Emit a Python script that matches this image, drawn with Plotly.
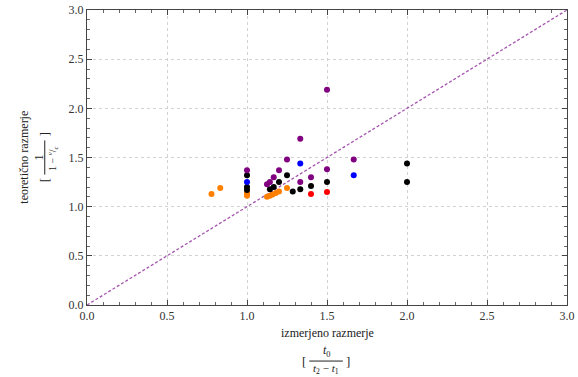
import plotly.graph_objects as go

# ---- data ----
orange_x = [0.778, 0.833, 1.0, 1.0, 1.0, 1.125, 1.143, 1.16, 1.18, 1.2, 1.25]
orange_y = [1.13, 1.19, 1.14, 1.12, 1.11, 1.10, 1.11, 1.125, 1.14, 1.155, 1.19]

black_x = [1.0, 1.0, 1.0, 1.143, 1.167, 1.2, 1.25, 1.286, 1.333, 1.4, 1.5, 2.0, 2.0]
black_y = [1.32, 1.20, 1.17, 1.177, 1.20, 1.25, 1.32, 1.153, 1.177, 1.21, 1.25, 1.44, 1.25]

purple_x = [1.0, 1.125, 1.143, 1.167, 1.2, 1.25, 1.333, 1.333, 1.4, 1.5, 1.5, 1.667]
purple_y = [1.37, 1.227, 1.25, 1.30, 1.37, 1.48, 1.25, 1.69, 1.30, 1.38, 2.19, 1.48]

blue_x = [1.0, 1.333, 1.667]
blue_y = [1.25, 1.44, 1.32]

red_x = [1.4, 1.5]
red_y = [1.13, 1.15]

diag_x = [0, 3]
diag_y = [0, 3]

tick_vals = [0.0, 0.5, 1.0, 1.5, 2.0, 2.5, 3.0]
tick_text = ["0.0", "0.5", "1.0", "1.5", "2.0", "2.5", "3.0"]

FONT = "Liberation Serif, Times New Roman, serif"

fig = go.Figure()
fig.add_trace(go.Scatter(x=diag_x, y=diag_y, mode="lines",
                         line=dict(color="rgb(165,85,175)", width=1.3, dash="3px,2px"),
                         hoverinfo="skip"))
series = [
    (orange_x, orange_y, "rgb(255,127,0)"),
    (black_x, black_y, "black"),
    (purple_x, purple_y, "rgb(128,0,128)"),
    (blue_x, blue_y, "rgb(0,0,255)"),
    (red_x, red_y, "rgb(255,0,0)"),
]
for xs, ys, c in series:
    fig.add_trace(go.Scatter(x=xs, y=ys, mode="markers",
                             marker=dict(color=c, size=6, line=dict(width=0))))

axis_common = dict(
    range=[0, 3], tickvals=tick_vals, ticktext=tick_text, automargin=False,
    showline=True, linecolor="#444", linewidth=1, mirror="ticks",
    ticks="inside", ticklen=5, tickcolor="#444",
    minor=dict(dtick=0.1, ticks="inside", ticklen=3, tickcolor="#666", showgrid=False),
    showgrid=True, gridcolor="#d2d2d2", griddash="dot", gridwidth=1,
    zeroline=False, tickfont=dict(family=FONT, size=12, color="#333"),
)
fig.update_xaxes(**axis_common)
fig.update_yaxes(**axis_common)

def ann(x, y, text, size=12, angle=0):
    fig.add_annotation(xref="paper", yref="paper", x=x, y=y, text=text,
                       showarrow=False, textangle=angle,
                       font=dict(family=FONT, size=size, color="#222"),
                       xanchor="center", yanchor="middle")

# x axis title and fraction
ann(0.5, -0.095, "izmerjeno razmerje", 12)
ann(0.5, -0.155, "<i>t</i><sub>0</sub>", 12)
ann(0.498, -0.218, "<i>t</i><sub>2</sub> − <i>t</i><sub>1</sub>", 11)
ann(0.452, -0.19, "[", 13)
ann(0.543, -0.19, "]", 13)
fig.add_shape(type="line", xref="paper", yref="paper",
              x0=0.463, x1=0.533, y0=-0.19, y1=-0.19,
              line=dict(color="#222", width=1))

# y axis title and fraction
ann(-0.133, 0.5, "teoretično razmerje", 12, -90)
ann(-0.102, 0.5, "1", 12, -90)
ann(-0.072, 0.5, "1 − <sup><i>v</i></sup>/<sub><i>c</i></sub>", 10, -90)
ann(-0.088, 0.422, "[", 13, -90)
ann(-0.088, 0.578, "]", 13, -90)
fig.add_shape(type="line", xref="paper", yref="paper",
              x0=-0.088, x1=-0.088, y0=0.442, y1=0.558,
              line=dict(color="#222", width=1))

fig.update_layout(
    width=578, height=377,
    margin=dict(l=87, r=11, t=10, b=72),
    paper_bgcolor="white", plot_bgcolor="white",
    showlegend=False,
)
fig.write_html("out.html",
               config={"displayModeBar": False, "responsive": False},
               post_script="document.body.style.margin='0';document.body.style.padding='0';")
